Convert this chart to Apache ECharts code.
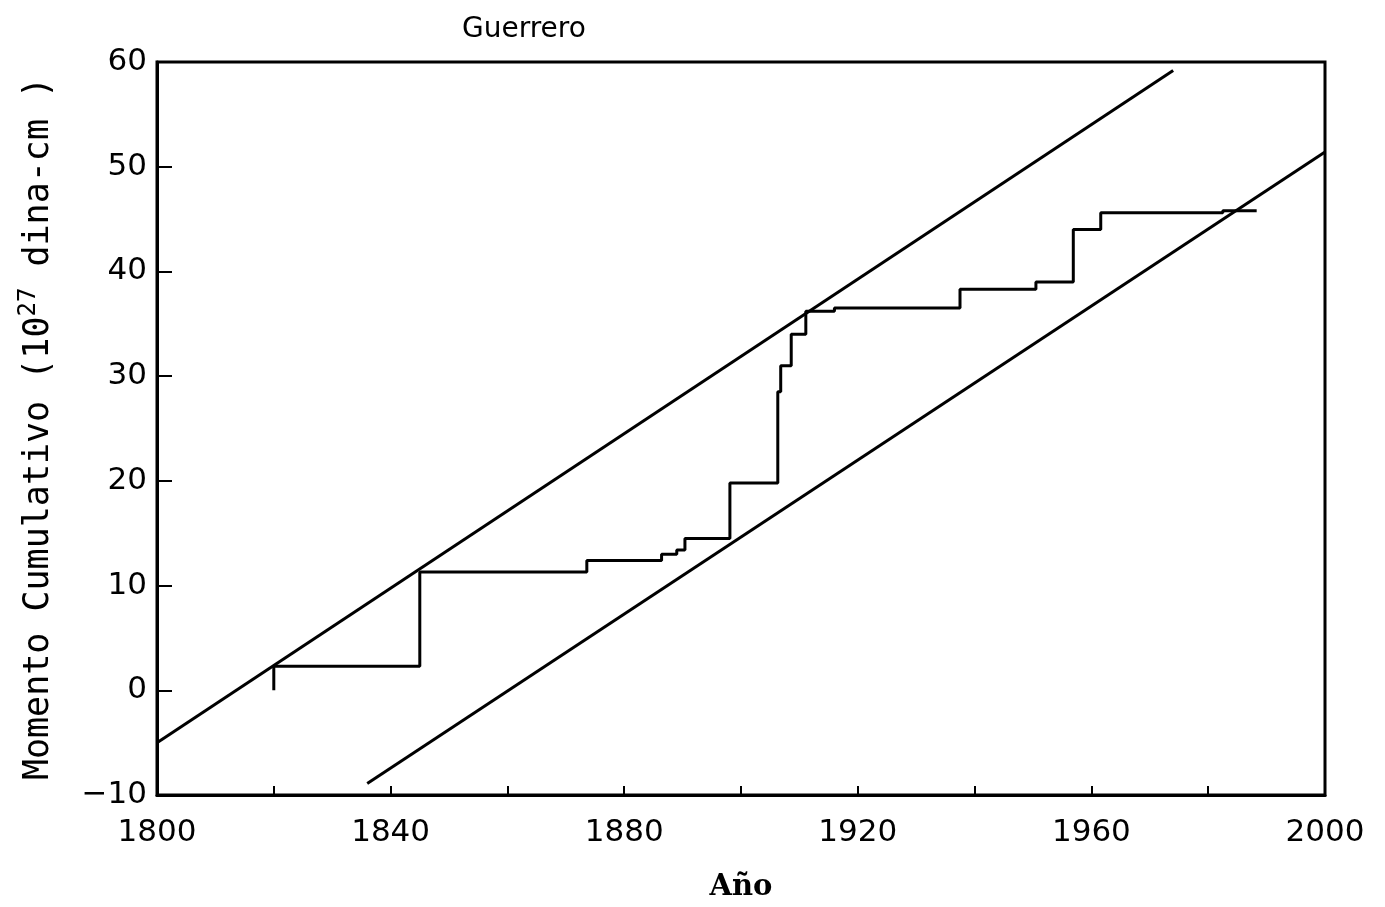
<!DOCTYPE html>
<html>
<head>
<meta charset="utf-8">
<title>Guerrero</title>
<script src="https://cdn.jsdelivr.net/npm/echarts@6/dist/echarts.min.js"></script>
<style>
  html, body { margin: 0; padding: 0; background: #fff; }
  #chart { width: 1385px; height: 907px; }
</style>
</head>
<body>
<div id="chart"></div>
<script>
  // step curve of cumulative moment: year where the level changes, and the new level
  const stepYears = [1820, 1820, 1845, 1873.6, 1886.4, 1889, 1890.4, 1898.1, 1906.3, 1906.8, 1908.6, 1911.1, 1916, 1937.5, 1950.5, 1956.9, 1961.6, 1982.5, 1988.3];
  const stepValues = [0, 2.3, 11.3, 12.4, 13.0, 13.4, 14.5, 19.8, 28.5, 31.0, 34.0, 36.2, 36.5, 38.3, 39.0, 44.0, 45.6, 45.8, 45.8];
  // upper and lower envelope lines (end points)
  const upperYears = [1800, 1974];
  const upperValues = [-5.0, 59.2];
  const lowerYears = [1836, 2000];
  const lowerValues = [-8.9, 51.4];

  const zip = (xs, ys) => xs.map((x, i) => [x, ys[i]]);
  const ink = "#000";

  const chart = echarts.init(document.getElementById("chart"));
  chart.setOption({
    animation: false,
    backgroundColor: "#fff",
    title: {
      text: "Guerrero",
      left: 457,
      top: 11,
      textStyle: { fontFamily: "DejaVu Sans", fontWeight: "normal", fontSize: 28, color: ink }
    },
    grid: {
      left: 157, right: 60, top: 62, bottom: 110,
      show: true, borderColor: ink, borderWidth: 3, backgroundColor: "transparent"
    },
    xAxis: {
      type: "value",
      min: 1800, max: 2000, interval: 20,
      name: "Año",
      nameLocation: "middle",
      nameGap: 78,
      nameTextStyle: { fontFamily: "DejaVu Serif", fontWeight: "bold", fontSize: 29, color: ink },
      axisLine: { show: true, onZero: false, lineStyle: { color: ink, width: 3 } },
      axisTick: { show: true, inside: true, length: 9, lineStyle: { color: ink, width: 2 } },
      axisLabel: {
        margin: 22,
        fontFamily: "DejaVu Sans", fontSize: 31, color: ink,
        formatter: (v) => (v % 40 === 0 ? String(v) : "")
      },
      splitLine: { show: false }
    },
    yAxis: {
      type: "value",
      min: -10, max: 60, interval: 10,
      name: "Momento Cumulativo (10{sup|27} dina-cm )",
      nameLocation: "middle",
      nameGap: 96,
      nameRotate: 90,
      nameTextStyle: {
        fontFamily: "DejaVu Sans Mono", fontSize: 35, color: ink,
        rich: { sup: { fontFamily: "DejaVu Sans Mono", fontSize: 24, color: ink, padding: [0, 0, 20, 0] } }
      },
      axisLine: { show: true, onZero: false, lineStyle: { color: ink, width: 3 } },
      axisTick: { show: true, inside: true, length: 15, lineStyle: { color: ink, width: 2 } },
      axisLabel: {
        margin: 10,
        fontFamily: "DejaVu Sans", fontSize: 31, color: ink,
        formatter: (v) => (v < 0 ? "\u2212" + Math.abs(v) : String(v))
      },
      splitLine: { show: false }
    },
    series: [
      {
        name: "upper",
        type: "line",
        data: zip(upperYears, upperValues),
        symbol: "none",
        lineStyle: { color: ink, width: 3 }
      },
      {
        name: "lower",
        type: "line",
        data: zip(lowerYears, lowerValues),
        symbol: "none",
        lineStyle: { color: ink, width: 3 }
      },
      {
        name: "cumulative",
        type: "line",
        step: "end",
        data: zip(stepYears, stepValues),
        symbol: "none",
        lineStyle: { color: ink, width: 3 }
      }
    ]
  });
</script>
</body>
</html>
